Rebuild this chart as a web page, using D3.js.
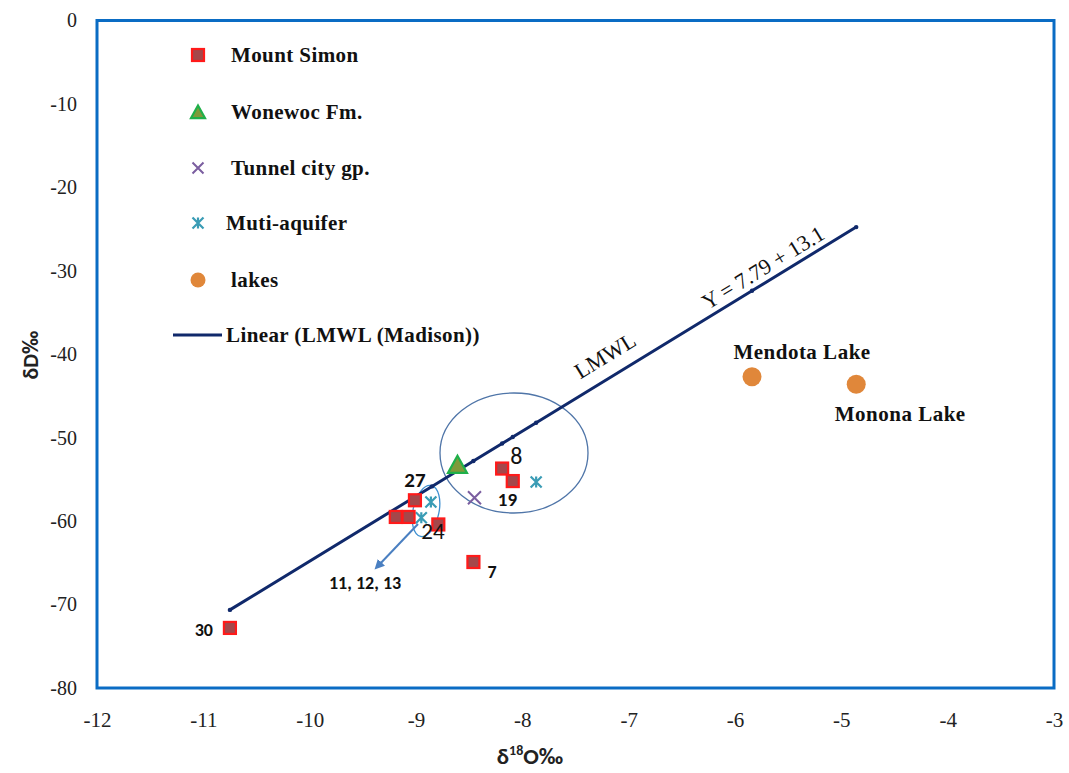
<!DOCTYPE html>
<html>
<head>
<meta charset="utf-8">
<script src="https://cdn.jsdelivr.net/npm/d3@7"></script>
<style>
  html, body { margin: 0; padding: 0; background: #fff; }
  svg { display: block; }
</style>
</head>
<body>
<svg id="chart" width="1069" height="773"></svg>
<script>
// δ18O (x) and δD (y) values, per group
const mountSimonX = [-10.75, -8.46, -8.19, -8.09, -9.01, -9.19, -9.07, -8.79];
const mountSimonY = [-72.8, -64.9, -53.7, -55.2, -57.5, -59.5, -59.5, -60.4];
const wonewocX = [-8.61];
const wonewocY = [-53.4];
const tunnelCityX = [-8.45];
const tunnelCityY = [-57.2];
const multiAquiferX = [-7.87, -8.86, -8.95];
const multiAquiferY = [-55.3, -57.7, -59.6];
const lakeNames = ["Mendota Lake", "Monona Lake"];
const lakesX = [-5.84, -4.86];
const lakesY = [-42.7, -43.6];
// Local meteoric water line (Madison)
const lmwlX = [-10.75, -8.85, -8.46, -8.19, -8.09, -7.87, -5.84, -4.86];
const lmwlY = [-70.64, -55.84, -52.80, -50.70, -49.92, -48.21, -32.39, -24.76];
// Sample numbers: [x, y, label]
const sampleLabels = [
  [-10.75, -72.8, "30"], [-8.46, -64.9, "7"], [-9.01, -57.5, "27"],
  [-8.19, -53.7, "8"], [-8.09, -55.2, "19"], [-8.79, -60.4, "24"]
];
const xTicks = [-12, -11, -10, -9, -8, -7, -6, -5, -4, -3];
const yTicks = [0, -10, -20, -30, -40, -50, -60, -70, -80];
const legendLabels = ["Mount Simon", "Wonewoc Fm.", "Tunnel city gp.", "Muti-aquifer", "lakes", "Linear (LMWL (Madison))"];

const svg = d3.select("#chart");
const pLeft = 97, pRight = 1054, pTop = 20.5, pBottom = 688;
const x = d3.scaleLinear().domain([-12, -3]).range([pLeft, pRight]);
const y = d3.scaleLinear().domain([-80, 0]).range([pBottom, pTop]);

const serif = "'Liberation Serif', 'DejaVu Serif', serif";
const sans = "Carlito, Calibri, 'Liberation Sans', sans-serif";
const hyphen = d => String(d);

// Axes (labels only, no tick marks)
const xAxis = svg.append("g").attr("transform", `translate(0,${pBottom})`)
  .call(d3.axisBottom(x).tickValues(xTicks).tickSize(0).tickPadding(24).tickFormat(hyphen));
xAxis.select(".domain").remove();
xAxis.selectAll("text").attr("font-family", serif).attr("font-size", 21).attr("fill", "#222");

const yAxis = svg.append("g").attr("transform", `translate(${pLeft},0)`)
  .call(d3.axisLeft(y).tickValues(yTicks).tickSize(0).tickPadding(20).tickFormat(hyphen));
yAxis.select(".domain").remove();
yAxis.selectAll("text").attr("font-family", serif).attr("font-size", 20).attr("fill", "#222");

// Plot frame
svg.append("rect").attr("x", pLeft).attr("y", pTop).attr("width", pRight - pLeft).attr("height", pBottom - pTop)
  .attr("fill", "none").attr("stroke", "#0a6cc4").attr("stroke-width", 3);

// Axis titles
svg.append("text").attr("transform", `translate(38,355) rotate(-90)`).attr("text-anchor", "middle")
  .attr("font-family", sans).attr("font-weight", "bold").attr("font-size", 22).attr("fill", "#222").text("δD‰");
const xt = svg.append("text").attr("x", 530).attr("y", 764).attr("text-anchor", "middle")
  .attr("font-family", sans).attr("font-weight", "bold").attr("font-size", 23).attr("fill", "#222");
xt.append("tspan").text("δ");
xt.append("tspan").attr("font-size", 14).attr("dy", -9).text("18");
xt.append("tspan").attr("dy", 9).text("O‰");

// Grouping ellipses and arrow
const plot = svg.append("g");
plot.append("ellipse").attr("cx", 514).attr("cy", 453).attr("rx", 74).attr("ry", 60)
  .attr("fill", "none").attr("stroke", "#4f75a8").attr("stroke-width", 1.3);
plot.append("ellipse").attr("cx", 426).attr("cy", 511).attr("rx", 13).attr("ry", 26)
  .attr("transform", "rotate(12,426,511)")
  .attr("fill", "none").attr("stroke", "#3d8fd0").attr("stroke-width", 1.3);

svg.append("defs").append("marker").attr("id", "arrowhead").attr("viewBox", "0 0 10 10")
  .attr("refX", 5).attr("refY", 5).attr("markerWidth", 5).attr("markerHeight", 5).attr("orient", "auto")
  .append("path").attr("d", "M0,0 L10,5 L0,10 Z").attr("fill", "#4a7fc1");
plot.append("line").attr("x1", 418).attr("y1", 524).attr("x2", 378).attr("y2", 566)
  .attr("stroke", "#4a7fc1").attr("stroke-width", 2).attr("marker-end", "url(#arrowhead)");

// LMWL line with small point markers
const lmwl = lmwlX.map((v, i) => [v, lmwlY[i]]);
plot.append("path").datum(lmwl)
  .attr("d", d3.line().x(d => x(d[0])).y(d => y(d[1])))
  .attr("fill", "none").attr("stroke", "#10296b").attr("stroke-width", 3);
plot.selectAll(".lmwlpt").data(lmwl).join("circle").attr("class", "lmwlpt")
  .attr("cx", d => x(d[0])).attr("cy", d => y(d[1])).attr("r", 2.2).attr("fill", "#10296b");

// Marker drawers
function square(g, cx, cy, s) {
  g.append("rect").attr("x", cx - s / 2).attr("y", cy - s / 2).attr("width", s).attr("height", s)
    .attr("fill", "#a5474a").attr("stroke", "#ff1a1a").attr("stroke-width", 2.2);
}
function triangle(g, cx, cy, s) {
  const h = s * 0.9;
  g.append("path").attr("d", `M${cx},${cy - h * 0.6} L${cx + s / 2},${cy + h * 0.4} L${cx - s / 2},${cy + h * 0.4} Z`)
    .attr("fill", "#7f9a3a").attr("stroke", "#1fb04a").attr("stroke-width", 2.2);
}
function cross(g, cx, cy, s) {
  const r = s / 2;
  g.append("path").attr("d", `M${cx - r},${cy - r} L${cx + r},${cy + r} M${cx - r},${cy + r} L${cx + r},${cy - r}`)
    .attr("stroke", "#7b5ea0").attr("stroke-width", 2);
}
function star(g, cx, cy, s) {
  const r = s / 2;
  g.append("path").attr("d", `M${cx - r},${cy - r} L${cx + r},${cy + r} M${cx - r},${cy + r} L${cx + r},${cy - r} M${cx},${cy - r} L${cx},${cy + r}`)
    .attr("stroke", "#3a9cb5").attr("stroke-width", 2.2);
}
function dot(g, cx, cy, r) {
  g.append("circle").attr("cx", cx).attr("cy", cy).attr("r", r).attr("fill", "#e0873a");
}

const pts = svg.append("g");
multiAquiferX.forEach((v, i) => star(pts, x(v), y(multiAquiferY[i]), 11));
mountSimonX.forEach((v, i) => square(pts, x(v), y(mountSimonY[i]), 12));
wonewocX.forEach((v, i) => triangle(pts, x(v), y(wonewocY[i]), 19));
tunnelCityX.forEach((v, i) => cross(pts, x(v), y(tunnelCityY[i]), 13));
lakesX.forEach((v, i) => dot(pts, x(v), y(lakesY[i]), 9.5));

// Sample number annotations
const labelStyle = {
  "30": { dx: -17, dy: 8, size: 18, weight: "bold", anchor: "end" },
  "7": { dx: 14, dy: 16, size: 18, weight: "bold", anchor: "start" },
  "27": { dx: 0, dy: -13, size: 21, weight: "bold", anchor: "middle" },
  "8": { dx: 8, dy: -5, size: 24, weight: "normal", anchor: "start" },
  "19": { dx: -15, dy: 25, size: 19, weight: "bold", anchor: "start" },
  "24": { dx: -17, dy: 15, size: 23, weight: "normal", anchor: "start" }
};
sampleLabels.forEach(([vx, vy, t]) => {
  const st = labelStyle[t];
  svg.append("text").attr("x", x(vx) + st.dx).attr("y", y(vy) + st.dy).attr("text-anchor", st.anchor)
    .attr("font-family", sans).attr("font-weight", st.weight).attr("font-size", st.size)
    .attr("fill", "#111").text(t);
});
svg.append("text").attr("x", 329).attr("y", 589).attr("font-family", sans).attr("font-weight", "bold")
  .attr("font-size", 18).attr("fill", "#111").text("11, 12, 13");

// Lake names
svg.append("text").attr("x", x(lakesX[0]) + 50).attr("y", y(lakesY[0]) - 18).attr("text-anchor", "middle")
  .attr("font-family", serif).attr("font-weight", "bold").attr("font-size", 21).attr("letter-spacing", 0.5)
  .attr("fill", "#111").text(lakeNames[0]);
svg.append("text").attr("x", x(lakesX[1]) + 44).attr("y", y(lakesY[1]) + 37).attr("text-anchor", "middle")
  .attr("font-family", serif).attr("font-weight", "bold").attr("font-size", 21).attr("letter-spacing", 0.5)
  .attr("fill", "#111").text(lakeNames[1]);

// LMWL annotations along the line
const ang = Math.atan2(y(lmwlY[7]) - y(lmwlY[0]), x(lmwlX[7]) - x(lmwlX[0])) * 180 / Math.PI;
svg.append("text").attr("transform", `translate(609,362) rotate(${ang})`).attr("text-anchor", "middle")
  .attr("font-family", serif).attr("font-size", 22).attr("fill", "#111").text("LMWL");
svg.append("text").attr("transform", `translate(767,274) rotate(${ang})`).attr("text-anchor", "middle")
  .attr("font-family", serif).attr("font-size", 22).attr("fill", "#111").text("Y = 7.79 + 13.1");

// Legend
const legY = [55, 112, 168, 223, 280, 335];
const lg = svg.append("g");
square(lg, 198, legY[0], 12);
triangle(lg, 198, legY[1] + 1, 14);
cross(lg, 198, legY[2], 11);
star(lg, 198, legY[3], 11);
dot(lg, 198, legY[4], 7.5);
lg.append("line").attr("x1", 173).attr("x2", 222).attr("y1", legY[5]).attr("y2", legY[5])
  .attr("stroke", "#10296b").attr("stroke-width", 3);
const legX = [231, 231, 231, 226, 231, 226];
legendLabels.forEach((t, i) => {
  lg.append("text").attr("x", legX[i]).attr("y", legY[i] + 7).attr("font-family", serif)
    .attr("font-weight", "bold").attr("font-size", 21).attr("letter-spacing", 0.4)
    .attr("fill", "#111").text(t);
});
</script>
</body>
</html>
